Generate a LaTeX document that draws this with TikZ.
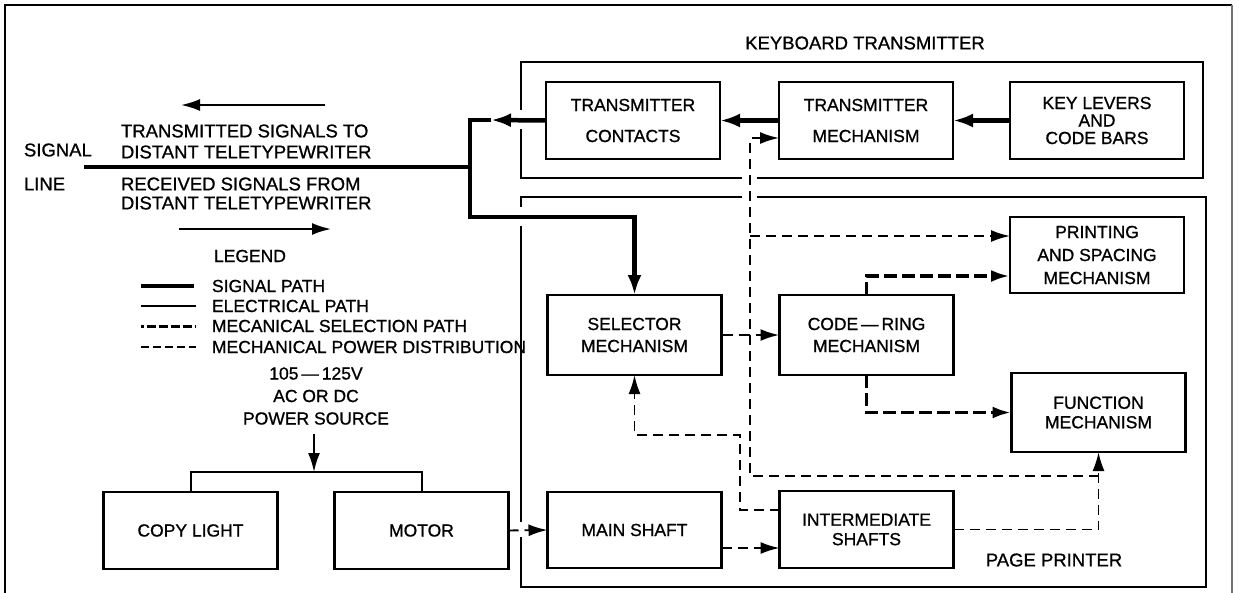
\documentclass[tikz,border=0pt]{standalone}
\usepackage{fontspec}
\setmainfont{Liberation Sans}[BoldFont=Liberation Sans, BoldFeatures={FakeBold=0.9}]
\usetikzlibrary{arrows.meta}
\begin{document}
\begin{tikzpicture}[x=1pt,y=-1pt,
  every node/.style={inner sep=0pt, outer sep=0pt, font=\fontsize{17.5}{21}\selectfont\bfseries},
  blk/.style={draw, line width=2.3pt, minimum width=174pt, minimum height=77pt, align=center,
              font=\fontsize{17.5}{22}\selectfont\bfseries},
  cont/.style={draw, line width=2.2pt},
  big/.style={font=\fontsize{18.5}{21}\selectfont\bfseries},
  sig/.style={line width=4.5pt, line join=miter},
  el/.style={line width=2pt},
  pw/.style={line width=1.9pt, dash pattern=on 10pt off 6pt},
  sl/.style={line width=3.8pt, dash pattern=on 13pt off 5pt},
  slm/.style={line width=2.6pt, dash pattern=on 11pt off 6pt},
  tip/.style={-{Latex[length=19pt,width=12pt]}},
  btip/.style={-{Latex[length=20pt,width=14pt]}},
]
\useasboundingbox (0,0) rectangle (1239,592);

% outer frame
\draw[line width=1.8pt] (5,600) -- (5,5) -- (1232,5);
\draw[line width=1.2pt, black!55] (1232,5) -- (1232,600);

% containers
\draw[cont] (521,62) rectangle (1203,178);
\draw[cont] (521,197) rectangle (1206,587);
\node[big] (kbt) at (865,43) {KEYBOARD TRANSMITTER};
\node[big] (ppl) at (1054,560) {PAGE PRINTER};

% gaps where connectors cross the container borders
\fill[white] (515,110) rectangle (528,129);
\fill[white] (515,207) rectangle (528,226);
\fill[white] (515,522) rectangle (528,537);
\fill[white] (742,173) rectangle (757,183);
\fill[white] (742,192) rectangle (757,202);

% blocks
\node[blk] (tc) at (633,120.5) {TRANSMITTER\\[9pt]CONTACTS};
\node[blk] (tm) at (866,120.5) {TRANSMITTER\\[9pt]MECHANISM};
\node[blk, font=\fontsize{17.5}{17.5}\selectfont\bfseries] (kl) at (1097,120.5) {KEY LEVERS\\AND\\CODE BARS};
\node[blk, font=\fontsize{17.5}{23}\selectfont\bfseries, minimum height=76pt] (ps) at (1097,255) {PRINTING\\AND SPACING\\MECHANISM};
\node[blk, minimum height=80pt] (sel) at (634.5,335) {SELECTOR\\MECHANISM};
\node[blk, minimum height=80pt] (cr) at (866.5,335) {CODE\,—\,RING\\MECHANISM};
\node[blk, font=\fontsize{17.5}{19.5}\selectfont\bfseries, minimum height=79pt] (fn) at (1098.5,412.5) {FUNCTION\\MECHANISM};
\node[blk, minimum height=76pt] (ms) at (634.5,530) {MAIN SHAFT};
\node[blk, font=\fontsize{17.5}{19.5}\selectfont\bfseries] (is) at (866.5,529.5) {INTERMEDIATE\\SHAFTS};
\node[blk] (cl) at (190.5,530.5) {COPY LIGHT};
\node[blk] (mo) at (421.5,530.5) {MOTOR};

% left labels
\node[big, anchor=west] (sg) at (24,150) {SIGNAL};
\node[big, anchor=west] (ln) at (24,184) {LINE};
\node[big, anchor=west, align=left] (tx) at (121,141.5) {TRANSMITTED SIGNALS TO\\DISTANT TELETYPEWRITER};
\node[big, anchor=west, align=left, font=\fontsize{18.5}{19}\selectfont\bfseries] (rx) at (121,193.5) {RECEIVED SIGNALS FROM\\DISTANT TELETYPEWRITER};
\coordinate (ua1) at (325,105); \coordinate (ua2) at (181,105);
\coordinate (la1) at (179,229); \coordinate (la2) at (331,229);
\draw[el,tip] (ua1) -- (ua2);
\draw[el,tip] (la1) -- (la2);

% legend
\node (leg) at (250,256) {LEGEND};
\node[anchor=west] (lg1) at (212,286) {SIGNAL PATH};
\node[anchor=west] (lg2) at (212,306) {ELECTRICAL PATH};
\node[anchor=west] (lg3) at (212,326) {MECANICAL SELECTION PATH};
\node[anchor=west] (lg4) at (212,347) {MECHANICAL POWER DISTRIBUTION};
\draw[sig] ([xshift=-71pt]lg1.west) -- ([xshift=-18pt]lg1.west);
\draw[el] ([xshift=-71pt]lg2.west) -- ([xshift=-16pt]lg2.west);
\draw[line width=3pt, dash pattern=on 3pt off 3pt on 9pt off 3pt on 9pt off 3pt on 9pt off 3pt on 9pt]
  ([xshift=-71pt]lg3.west) -- ([xshift=-16pt]lg3.west);
\draw[line width=1.6pt, dash pattern=on 8pt off 4pt] ([xshift=-71pt]lg4.west) -- ([xshift=-16pt]lg4.west);

% power source
\node[align=center, font=\fontsize{17.5}{22.5}\selectfont\bfseries] (pwr) at (316,396) {105\,—\,125V\\AC OR DC\\POWER SOURCE};
\coordinate (br) at (314,472);
\draw[el,tip, shorten <=9pt] (br |- pwr.south) -- (br);
\draw[el] (cl.north) |- (br) -| (mo.north);

% signal path
\coordinate (ah) at (491,120);
\coordinate (j1) at (470,120);
\coordinate (j2) at (470,217);
\coordinate (j3) at (470,167);
\coordinate (sl0) at (84,167);
\draw[sig] (sl0) -- (j3);
\draw[sig,btip] (kl.west) -- (tm.east);
\draw[sig,btip] (tm.west) -- (tc.east);
\draw[sig,btip] (tc.west) -- (ah);
\draw[sig,btip] (ah) -- (j1) -- (j2) -| (sel.north);

% mechanical power distribution
\coordinate (y548) at (0,548);
\draw[pw,tip] (mo.east) -- (ms.west);
\draw[pw,tip] (ms.east |- y548) -- (is.west |- y548);
\draw[pw,tip] (is.east) -| (fn.south);
\coordinate (pb) at (1098.5,476);
\coordinate (pc) at (750,476);
\coordinate (pd) at (750,236);
\coordinate (pe) at (750,138);
\draw[pw,tip] (pb) -- (pc) -- (pe) -- (tm.west |- pe);
\draw[pw,tip] (pd) -- (ps.west |- pd);
\coordinate (q1) at (740,510);
\coordinate (q2) at (740,435);
\draw[pw,tip] (is.west |- q1) -- (q1) -- (q2) -| (sel.south);

% mechanical selection path
\coordinate (r1) at (0,276);
\draw[slm,tip] (sel.east) -- (cr.west);
\draw[sl,tip] (cr.north) |- (ps.west |- r1);
\draw[sl,tip] (cr.south) |- (fn.west);
\end{tikzpicture}
\end{document}
